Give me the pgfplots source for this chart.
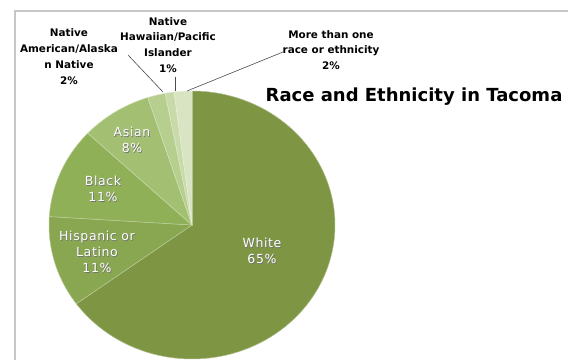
\documentclass[border=0pt]{standalone}
\usepackage{pgfplots}
\pgfplotsset{compat=1.18}
\usepackage{fontspec}
\setmainfont{DejaVu Sans}
\newfontfamily\inlab[LetterSpace=5]{DejaVu Sans}
\definecolor{cWhite}{RGB}{126,150,68}
\definecolor{cHisp}{RGB}{137,167,80}
\definecolor{cBlack}{RGB}{144,176,88}
\definecolor{cAsian}{RGB}{163,192,114}
\definecolor{cNAAN}{RGB}{182,206,142}
\definecolor{cNHPI}{RGB}{200,218,168}
\definecolor{cMore}{RGB}{216,228,194}
\newcommand{\inl}[3]{%
  \node[text=black!55, align=center, font=\inlab\fontsize{12.5bp}{15.8bp}\selectfont] at (#1bp+0.8bp,#2bp-0.8bp) {#3};
  \node[text=white, align=center, font=\inlab\fontsize{12.5bp}{15.8bp}\selectfont] at (#1bp,#2bp) {#3};}
\begin{document}
\begin{tikzpicture}
\path[use as bounding box] (0,0) rectangle (568bp,360bp);
\fill[white] (0,0) rectangle (568bp,360bp);
\draw[black!22, line width=1.3bp] (15bp,0) -- (15bp,349bp) -- (568bp,349bp);
\begin{axis}[at={(192bp,135bp)}, anchor=center, scale only axis,
  width=286bp, height=268bp, xmin=-1, xmax=1, ymin=-1, ymax=1,
  hide axis, clip=false]
% White 65%, Hispanic 11%, Black 11%, Asian 8%, NA/AN 2%, NH/PI 1%, More 2%
% slices start at 90 deg and run clockwise, 3.6 deg per percent
\addplot[fill=cWhite, draw=cWhite!60!white, line width=0.5bp, domain=-144:90, samples=150] ({cos(x)},{sin(x)}) -- (axis cs:0,0) -- cycle;
\addplot[fill=cHisp, draw=cHisp!60!white, line width=0.5bp, domain=-183.6:-144, samples=30] ({cos(x)},{sin(x)}) -- (axis cs:0,0) -- cycle;
\addplot[fill=cBlack, draw=cBlack!60!white, line width=0.5bp, domain=-223.2:-183.6, samples=30] ({cos(x)},{sin(x)}) -- (axis cs:0,0) -- cycle;
\addplot[fill=cAsian, draw=cAsian!60!white, line width=0.5bp, domain=-252:-223.2, samples=25] ({cos(x)},{sin(x)}) -- (axis cs:0,0) -- cycle;
\addplot[fill=cNAAN, draw=cNAAN!60!white, line width=0.5bp, domain=-259.2:-252, samples=8] ({cos(x)},{sin(x)}) -- (axis cs:0,0) -- cycle;
\addplot[fill=cNHPI, draw=cNHPI!60!white, line width=0.5bp, domain=-262.8:-259.2, samples=5] ({cos(x)},{sin(x)}) -- (axis cs:0,0) -- cycle;
\addplot[fill=cMore, draw=cMore!60!white, line width=0.5bp, domain=-270:-262.8, samples=8] ({cos(x)},{sin(x)}) -- (axis cs:0,0) -- cycle;
\end{axis}
% inside labels
\inl{97}{108}{Hispanic or\\Latino\\11\%}
\inl{103}{171}{Black\\11\%}
\inl{132}{220}{Asian\\8\%}
\inl{262}{109}{White\\65\%}
% outside labels
\begin{scope}[every node/.style={align=center, font=\bfseries\fontsize{10.4bp}{15.8bp}\selectfont, text=black}]
\node at (69bp,303.5bp) {Native\\American/Alaska\\n Native\\2\%};
\node at (168bp,315bp) {Native\\Hawaiian/Pacific\\Islander\\1\%};
\node at (331bp,310bp) {More than one\\race or ethnicity\\2\%};
\end{scope}
\draw[black!70, line width=0.6bp] (128bp,305bp) -- (163bp,268bp);
\draw[black!70, line width=0.6bp] (175bp,283bp) -- (175bp,269bp);
\draw[black!70, line width=0.6bp] (187bp,269bp) -- (283bp,308bp);
% title
\node[font=\bfseries\fontsize{18bp}{22bp}\selectfont] at (414bp,263bp) {Race and Ethnicity in Tacoma};
\end{tikzpicture}
\end{document}
